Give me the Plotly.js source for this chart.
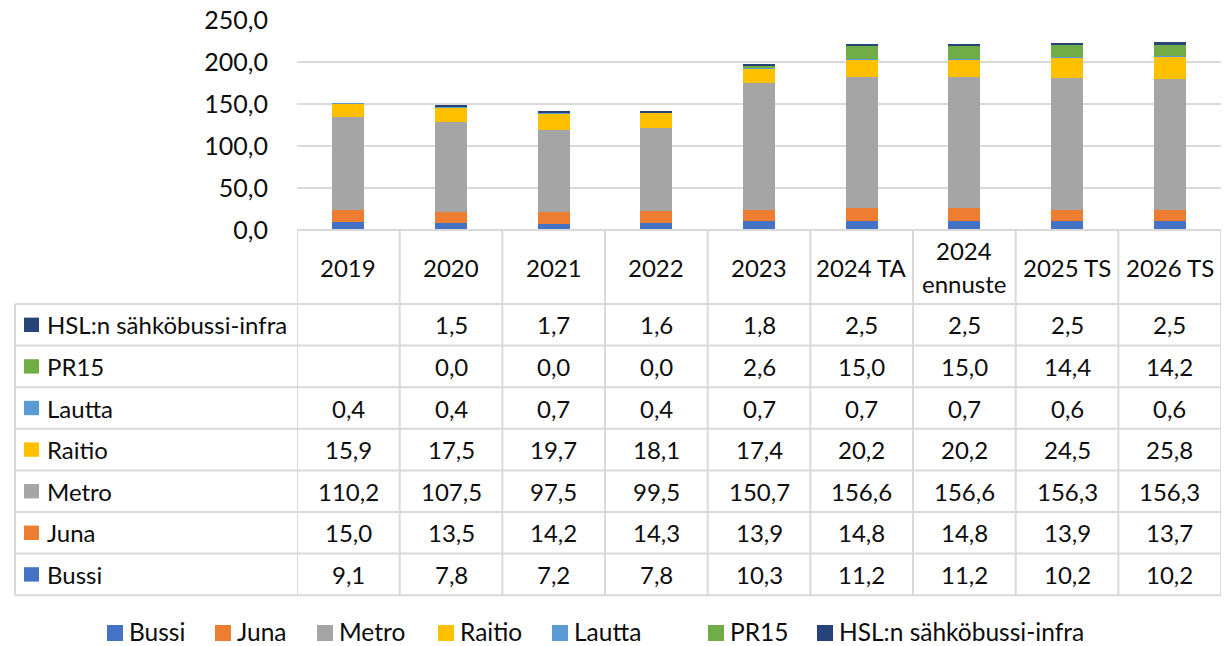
<!DOCTYPE html>
<html>
<head>
<meta charset="utf-8">
<script src="https://cdn.plot.ly/plotly-3.0.1.min.js"></script>
<style>
  html, body { margin: 0; padding: 0; background: #ffffff; }
  #chart { width: 1226px; height: 646px; }
</style>
</head>
<body>
<div id="chart"></div>
<script>
// ---------- data ----------
const categories = ['2019', '2020', '2021', '2022', '2023', '2024 TA', '2024<br>ennuste', '2025 TS', '2026 TS'];
const seriesNames = ['Bussi', 'Juna', 'Metro', 'Raitio', 'Lautta', 'PR15', 'HSL:n sähköbussi-infra'];
const bussi  = [9.1, 7.8, 7.2, 7.8, 10.3, 11.2, 11.2, 10.2, 10.2];
const juna   = [15.0, 13.5, 14.2, 14.3, 13.9, 14.8, 14.8, 13.9, 13.7];
const metro  = [110.2, 107.5, 97.5, 99.5, 150.7, 156.6, 156.6, 156.3, 156.3];
const raitio = [15.9, 17.5, 19.7, 18.1, 17.4, 20.2, 20.2, 24.5, 25.8];
const lautta = [0.4, 0.4, 0.7, 0.4, 0.7, 0.7, 0.7, 0.6, 0.6];
const pr15   = [null, 0.0, 0.0, 0.0, 2.6, 15.0, 15.0, 14.4, 14.2];
const hsl    = [null, 1.5, 1.7, 1.6, 1.8, 2.5, 2.5, 2.5, 2.5];
const yTickVals = [0, 50, 100, 150, 200, 250];

// ---------- styling ----------
const seriesValues = [bussi, juna, metro, raitio, lautta, pr15, hsl];
const colors = ['#4472C4', '#ED7D31', '#A5A5A5', '#FFC000', '#5B9BD5', '#70AD47', '#264478'];
const FONT = 'Lato, "Open Sans", sans-serif';
const TXT = '#0d0d0d';
const GRID = '#D9D9D9';

// pixel geometry
const L = 297, R = 1221, T = 20, B = 230;
const tableLeft = 15, headerBottom = 304, rowH = 41.6;
const nRows = seriesNames.length;
const tableBottom = headerBottom + nRows * rowH;
const xp = px => (px - L) / (R - L);
const yp = py => (B - py) / (B - T);
const fmt = v => (v === null || v === undefined) ? '' : v.toFixed(1).replace('.', ',');

// ---------- traces ----------
const traces = seriesNames.map((name, i) => ({
  type: 'bar',
  name: name,
  x: categories,
  y: seriesValues[i],
  marker: { color: colors[i], line: { width: 0 } },
  width: 0.31,
  hoverinfo: 'name+y'
}));

// ---------- table + legend ----------
const shapes = [];
const annotations = [];
const lineStyle = { color: GRID, width: 2 };

// header top line
shapes.push({ type: 'line', xref: 'paper', yref: 'paper', x0: 0, x1: 1, y0: yp(B), y1: yp(B), line: lineStyle, layer: 'above' });
// row lines
for (let k = 0; k <= nRows; k++) {
  const py = headerBottom + k * rowH;
  shapes.push({ type: 'line', xref: 'paper', yref: 'paper', x0: xp(tableLeft), x1: 1, y0: yp(py), y1: yp(py), line: lineStyle });
}
// left outer border
shapes.push({ type: 'line', xref: 'paper', yref: 'paper', x0: xp(tableLeft), x1: xp(tableLeft), y0: yp(headerBottom), y1: yp(tableBottom), line: lineStyle });
// column lines
for (let i = 0; i <= categories.length; i++) {
  shapes.push({ type: 'line', xref: 'x', yref: 'paper', x0: i - 0.5, x1: i - 0.5, y0: yp(B), y1: yp(tableBottom), line: lineStyle });
}

const TABLE_SIZE = 24;
// header labels
categories.forEach((c, i) => {
  const lines = c.split('<br>');
  const lh = 33;
  const c0 = (B + headerBottom) / 2 - (lines.length - 1) * lh / 2;
  lines.forEach((t, j) => {
    annotations.push({ xref: 'x', yref: 'paper', x: i, y: yp(c0 + j * lh), text: t, showarrow: false,
      xanchor: 'center', yanchor: 'middle', font: { family: FONT, size: TABLE_SIZE, color: TXT } });
  });
});

// rows: top-to-bottom is reverse of series order
for (let r = 0; r < nRows; r++) {
  const s = nRows - 1 - r;
  const cy = headerBottom + r * rowH + rowH / 2;
  // key
  shapes.push({ type: 'rect', xref: 'paper', yref: 'paper', x0: xp(24), x1: xp(39), y0: yp(cy - 7.2), y1: yp(cy + 7.2),
    fillcolor: colors[s], line: { width: 0 } });
  annotations.push({ xref: 'paper', yref: 'paper', x: xp(45), y: yp(cy), text: seriesNames[s], showarrow: false,
    xanchor: 'left', yanchor: 'middle', font: { family: FONT, size: TABLE_SIZE, color: TXT } });
  seriesValues[s].forEach((v, i) => {
    const t = fmt(v);
    if (t === '') return;
    annotations.push({ xref: 'x', yref: 'paper', x: i, y: yp(cy), text: t, showarrow: false,
      xanchor: 'center', yanchor: 'middle', font: { family: FONT, size: TABLE_SIZE, color: TXT } });
  });
}

// bottom legend
const legendKeyX = [107, 215, 317, 438, 552, 708, 817];
const legendY = 633;
seriesNames.forEach((n, i) => {
  shapes.push({ type: 'rect', xref: 'paper', yref: 'paper', x0: xp(legendKeyX[i]), x1: xp(legendKeyX[i] + 16),
    y0: yp(legendY - 8), y1: yp(legendY + 8), fillcolor: colors[i], line: { width: 0 } });
  annotations.push({ xref: 'paper', yref: 'paper', x: xp(legendKeyX[i] + 21), y: yp(legendY - 2), text: n, showarrow: false,
    xanchor: 'left', yanchor: 'middle', borderpad: 0, font: { family: FONT, size: 24.5, color: TXT } });
});

const layout = {
  width: 1226,
  height: 646,
  margin: { l: L, r: 1226 - R, t: T, b: 646 - B, pad: 0 },
  paper_bgcolor: '#ffffff',
  plot_bgcolor: '#ffffff',
  separators: ', ',
  barmode: 'stack',
  showlegend: false,
  font: { family: FONT, color: TXT },
  xaxis: {
    type: 'category',
    range: [-0.5, categories.length - 0.5],
    showticklabels: false,
    showgrid: false,
    zeroline: false,
    showline: false,
    ticks: ''
  },
  yaxis: {
    range: [0, 250],
    tickvals: yTickVals,
    tickformat: '.1f',
    showgrid: true,
    gridcolor: GRID,
    gridwidth: 2,
    zeroline: false,
    showline: false,
    ticks: '',
    ticklabelstandoff: 28,
    tickfont: { family: FONT, size: 25, color: TXT }
  },
  shapes: shapes,
  annotations: annotations
};

Plotly.newPlot('chart', traces, layout, { displayModeBar: false, responsive: false });
</script>
</body>
</html>
